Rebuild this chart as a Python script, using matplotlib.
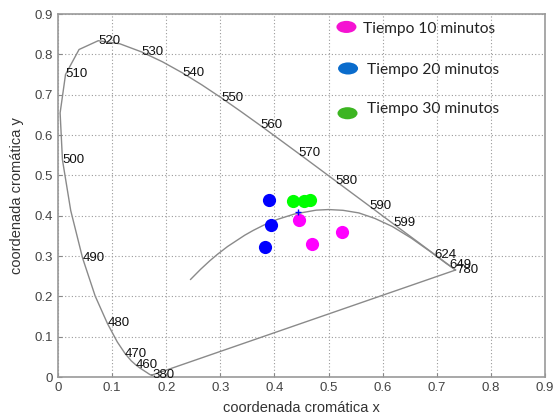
import numpy as np
import matplotlib
matplotlib.use("Agg")
import matplotlib.pyplot as plt
from matplotlib.patches import Ellipse

# CIE 1931 spectral locus (x, y), 380 nm up to the red end
locus_x = [0.1741, 0.1738, 0.1733, 0.1726, 0.1714, 0.1703, 0.1689, 0.1669,
           0.1644, 0.1611, 0.1566, 0.1510, 0.1440, 0.1355, 0.1241, 0.1096,
           0.0913, 0.0687, 0.0454, 0.0235, 0.0082, 0.0039, 0.0139, 0.0389,
           0.0743, 0.1142, 0.1547, 0.1929, 0.2296, 0.2658, 0.3016, 0.3373,
           0.3731, 0.4087, 0.4441, 0.4788, 0.5125, 0.5448, 0.5752, 0.6029,
           0.6270, 0.6482, 0.6658, 0.6801, 0.6915, 0.7006, 0.7079, 0.7140,
           0.7190, 0.7230, 0.7260, 0.7300, 0.7320, 0.7347]
locus_y = [0.0050, 0.0049, 0.0048, 0.0048, 0.0051, 0.0058, 0.0069, 0.0086,
           0.0109, 0.0138, 0.0177, 0.0227, 0.0297, 0.0399, 0.0578, 0.0868,
           0.1327, 0.2007, 0.2950, 0.4127, 0.5384, 0.6548, 0.7502, 0.8120,
           0.8338, 0.8262, 0.8059, 0.7816, 0.7543, 0.7243, 0.6923, 0.6589,
           0.6245, 0.5896, 0.5547, 0.5202, 0.4866, 0.4544, 0.4242, 0.3965,
           0.3725, 0.3514, 0.3340, 0.3197, 0.3083, 0.2993, 0.2920, 0.2859,
           0.2809, 0.2770, 0.2740, 0.2700, 0.2680, 0.2653]

# wavelength labels along the locus
wl_labels = ["380", "460", "470", "480", "490", "500", "510", "520", "530",
             "540", "550", "560", "570", "580", "590", "599", "624", "649", "780"]
wl_x = [0.1741, 0.1440, 0.1241, 0.0913, 0.0454, 0.0082, 0.0139, 0.0743, 0.1547,
        0.2296, 0.3016, 0.3731, 0.4441, 0.5125, 0.5752, 0.6190, 0.6960, 0.7230, 0.7360]
wl_y = [0.0050, 0.0297, 0.0578, 0.1327, 0.2950, 0.5384, 0.7502, 0.8338, 0.8059,
        0.7543, 0.6923, 0.6245, 0.5547, 0.4866, 0.4242, 0.3810, 0.3020, 0.2770, 0.2650]

# blackbody locus
planck_x = [0.2450, 0.2637, 0.2807, 0.2952, 0.3135, 0.3451, 0.3608, 0.3805,
            0.4053, 0.4369, 0.4770, 0.5000, 0.5267, 0.5560, 0.5857, 0.6180,
            0.6528, 0.6900, 0.7170, 0.7347]
planck_y = [0.2420, 0.2673, 0.2884, 0.3048, 0.3237, 0.3516, 0.3635, 0.3768,
            0.3907, 0.4041, 0.4137, 0.4152, 0.4133, 0.4068, 0.3931, 0.3730,
            0.3444, 0.3090, 0.2820, 0.2653]

# samples
t10_x = [0.445, 0.470, 0.525]
t10_y = [0.389, 0.331, 0.360]
t20_x = [0.390, 0.394, 0.383]
t20_y = [0.440, 0.376, 0.323]
t30_x = [0.434, 0.454, 0.465]
t30_y = [0.437, 0.437, 0.438]
white_x = [0.443]
white_y = [0.409]

legend_names = ["Tiempo 10 minutos", "Tiempo 20 minutos", "Tiempo 30 minutos"]

fig = plt.figure(figsize=(5.53, 4.17), dpi=100)
ax = fig.add_axes([0.1049, 0.0959, 0.8807, 0.8705])

lc = "#8a8a8a"
ax.plot(locus_x + [locus_x[0]], locus_y + [locus_y[0]], color=lc, lw=1.0)
ax.plot(planck_x, planck_y, color=lc, lw=1.0)

for lab, x, y in zip(wl_labels, wl_x, wl_y):
    ax.text(x, y, lab, fontsize=9.5, family="Liberation Sans", color="#111111",
            ha="left", va="center")

ms = 9.5
ax.plot(t20_x, t20_y, "o", color="#0000ff", ms=ms, mec="none")
ax.plot(t30_x, t30_y, "o", color="#00ff00", ms=ms, mec="none")
ax.plot(t10_x, t10_y, "o", color="#ff00ff", ms=ms, mec="none")
ax.plot(white_x, white_y, "+", color="#0000ff", ms=5, mew=1)

# hand drawn legend
leg_cols = ["#f512d2", "#0a6ccc", "#3cb521"]
leg_dot = [(0.533, 0.868), (0.536, 0.765), (0.535, 0.654)]
leg_txt = [(0.563, 0.862), (0.571, 0.761), (0.571, 0.664)]
for name, c, (ex, ey), (tx, ty) in zip(legend_names, leg_cols, leg_dot, leg_txt):
    ax.add_patch(Ellipse((ex, ey), 0.037, 0.030, color=c, lw=0))
    ax.text(tx, ty, name, fontsize=11.2, family="Lato", color="#222222",
            ha="left", va="center")

ax.set_xlim(0, 0.9)
ax.set_ylim(0, 0.9)
ticks = np.arange(0, 0.91, 0.1)
ax.set_xticks(ticks)
ax.set_yticks(ticks)
ax.set_xticklabels(["0"] + ["%.1f" % t for t in ticks[1:]])
ax.set_yticklabels(["0"] + ["%.1f" % t for t in ticks[1:]])
ax.tick_params(direction="in", length=3, colors="#888888", labelcolor="#444444",
               labelsize=9.5)
for lbl in ax.get_xticklabels() + ax.get_yticklabels():
    lbl.set_family("Liberation Sans")
ax.grid(True, ls=(0, (1, 2)), color="#9a9a9a", lw=0.8)
for s in ax.spines.values():
    s.set_color("#999999")
    s.set_linewidth(1.2)

ax.set_xlabel("coordenada cromática x", fontsize=10.5, family="Liberation Sans",
              color="#333333", labelpad=5)
ax.set_ylabel("coordenada cromática y", fontsize=10.5, family="Liberation Sans",
              color="#333333", labelpad=8)

fig.savefig("out.png", dpi=100)
